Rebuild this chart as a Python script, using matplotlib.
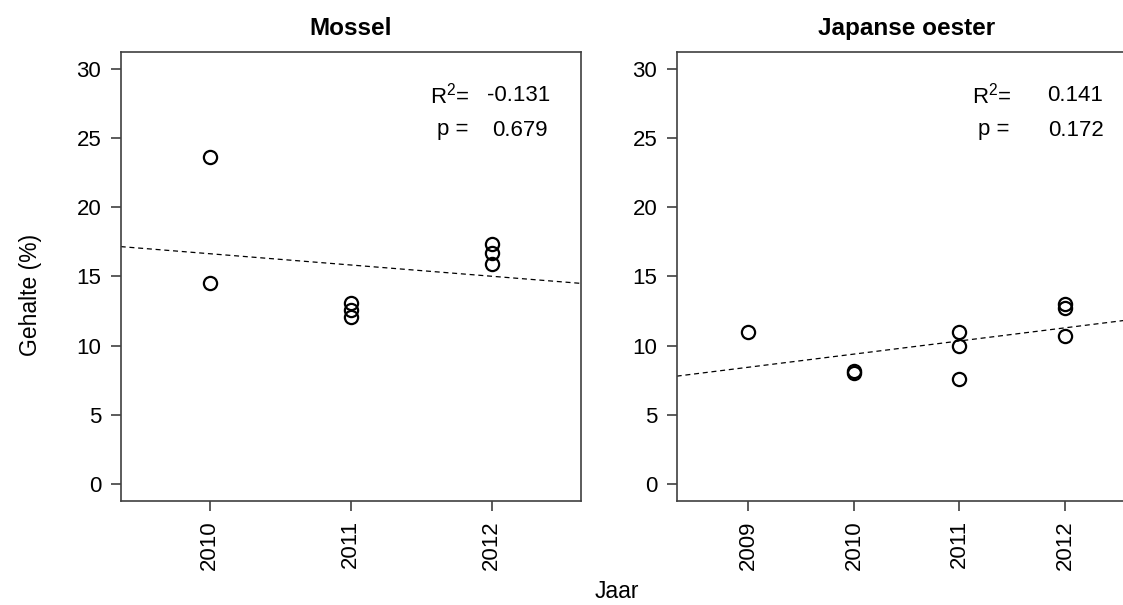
import numpy as np
import matplotlib
matplotlib.use('Agg')
import matplotlib.pyplot as plt

plt.rcParams['font.family'] = ['Liberation Sans', 'DejaVu Sans']
plt.rcParams['mathtext.fontset'] = 'custom'
plt.rcParams['mathtext.rm'] = 'Liberation Sans'
plt.rcParams['mathtext.it'] = 'Liberation Sans'

# Mossel
mossel_jaar = [2010, 2010, 2011, 2011, 2011, 2012, 2012, 2012]
mossel_gehalte = [23.6, 14.5, 13.1, 12.6, 12.1, 17.3, 16.65, 15.9]
mossel_r2 = "-0.131"
mossel_p = "0.679"

# Japanse oester
oester_jaar = [2009, 2010, 2010, 2011, 2011, 2011, 2012, 2012, 2012]
oester_gehalte = [11.0, 8.15, 8.0, 10.96, 10.0, 7.6, 12.98, 12.7, 10.67]
oester_r2 = "0.141"
oester_p = "0.172"

W, H = 1123, 605
fig = plt.figure(figsize=(W / 100, H / 100), dpi=100)

axis_col = '#404040'


def panel(left_px, title, jaar, gehalte, xlim, r2, p, xr2, xval):
    ax = fig.add_axes([left_px / W, (H - 500.7) / H, 460 / W, 448.7 / H])
    ax.plot(jaar, gehalte, 'o', mfc='none', mec='black', ms=9.5, mew=1.6,
            clip_on=False)
    # linear fit, drawn over the full x range
    slope, icpt = np.polyfit(jaar, gehalte, 1)
    xs = np.array(xlim)
    ax.plot(xs, slope * xs + icpt, color='black', lw=0.9, ls=(0, (4, 3)))
    ax.set_xlim(*xlim)
    ax.set_ylim(-1.2, 31.2)
    ax.set_yticks(range(0, 31, 5))
    ax.set_xticks(sorted(set(jaar)))
    ax.set_xticklabels([str(j) for j in sorted(set(jaar))], rotation=90)
    ax.tick_params(direction='out', length=7, width=1.2, color=axis_col,
                   labelsize=16, pad=7)
    for s in ax.spines.values():
        s.set_color(axis_col)
        s.set_linewidth(1.2)
    ax.set_title(title, fontsize=17.5, fontweight='bold', pad=12)
    ax.text(xr2, 0.904, r'R$^2$=', transform=ax.transAxes, fontsize=16,
            ha='center', va='center')
    ax.text(xval, 0.904, r2, transform=ax.transAxes, fontsize=16,
            ha='center', va='center')
    ax.text(xr2 + 0.005, 0.828, 'p =', transform=ax.transAxes, fontsize=16,
            ha='center', va='center')
    ax.text(xval + 0.003, 0.826, p, transform=ax.transAxes, fontsize=16,
            ha='center', va='center')
    return ax


panel(120.7, 'Mossel', mossel_jaar, mossel_gehalte, (2009.37, 2012.63),
      mossel_r2, mossel_p, 0.716, 0.864)
panel(676.7, 'Japanse oester', oester_jaar, oester_gehalte, (2008.32, 2012.68),
      oester_r2, oester_p, 0.685, 0.866)

fig.text(30 / W, 1 - 295 / H, 'Gehalte (%)', rotation=90, fontsize=16.5,
         ha='center', va='center')
fig.text(617 / W, 1 - 591 / H, 'Jaar', fontsize=16.5, ha='center', va='center')

fig.savefig('out.png', dpi=100)
